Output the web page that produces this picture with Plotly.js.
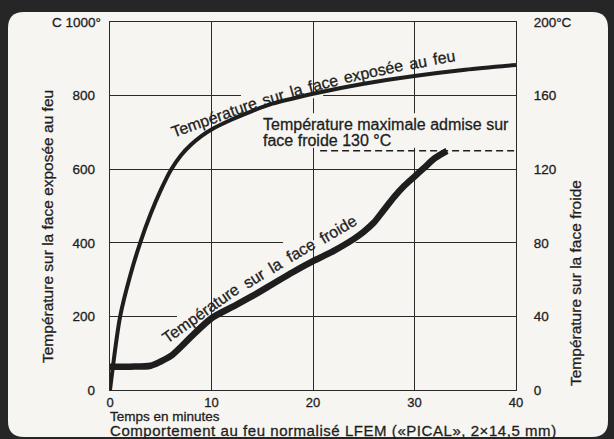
<!DOCTYPE html>
<html><head><meta charset="utf-8">
<script src="https://cdn.plot.ly/plotly-3.0.1.min.js"></script>
<style>
html,body{margin:0;padding:0;background:#262626;}
#chart{width:614px;height:439px;}
#chart text{stroke:#1e1e1e;stroke-width:0.3px;}
</style>
</head><body><div id="chart"></div>
<script>
// ---- data ----
const timeExposed = [0, 1, 2, 3, 4, 5, 6, 7, 8, 9, 10, 12, 14, 16, 18, 20, 25, 30, 35, 40];
const tempExposed = [0, 200, 312, 402, 478, 543, 598, 638, 667, 690, 708, 735, 758, 778, 792, 805, 832, 853, 870, 883];
const timeCold = [0, 2, 4, 5, 6, 7, 8, 10, 12, 14, 16, 18, 20, 22, 24, 25, 26, 27, 28, 29, 30, 31, 32, 33.2];
const tempCold = [12.7, 12.7, 13.2, 15.5, 18.5, 23.5, 29, 39, 45, 51, 57.5, 64, 70, 75.5, 82, 86, 91, 98, 105, 111, 116, 121, 126, 130];
const limitTime = [20.7, 40];
const limitTemp = [130, 130];
const xTickVals = [0, 10, 20, 30, 40];
const leftTickVals = [0, 200, 400, 600, 800, 1000];
const leftTickText = ['0', '200', '400', '600', '800', ''];
const leftTopLabel = 'C 1000°';
const rightTickVals = [0, 40, 80, 120, 160, 200];
const rightTickText = ['0', '40', '80', '120', '160', '200°C'];

// ---- layout helpers ----
const W = 614, H = 439, PL = 110, PR = 516, PT = 22, PB = 390;
const fx = p => (p - PL) / (PR - PL);
const fy = p => (PB - p) / (PB - PT);
const ink = '#1e1e1e';
const paperCol = '#f6f5f1';
const FONT = '"Liberation Sans", Arial, Helvetica, sans-serif';

function roundRect(x0, y0, x1, y1, r) {
  const P = (x, y) => fx(x).toFixed(5) + ',' + fy(y).toFixed(5);
  return 'M' + P(x0 + r, y0) + ' L' + P(x1 - r, y0) + ' Q' + P(x1, y0) + ' ' + P(x1, y0 + r) +
    ' L' + P(x1, y1 - r) + ' Q' + P(x1, y1) + ' ' + P(x1 - r, y1) +
    ' L' + P(x0 + r, y1) + ' Q' + P(x0, y1) + ' ' + P(x0, y1 - r) +
    ' L' + P(x0, y0 + r) + ' Q' + P(x0, y0) + ' ' + P(x0 + r, y0) + ' Z';
}
function mask(x0, x1, y0, y1) {
  return {type: 'rect', xref: 'x', yref: 'y', x0: x0, x1: x1, y0: y0, y1: y1,
    fillcolor: paperCol, line: {width: 0}, layer: 'between'};
}
function ptxt(text, x, y, opts) {
  return Object.assign({text: text, x: x, y: y, xref: 'paper', yref: 'paper', showarrow: false,
    xanchor: 'left', yanchor: 'middle', font: {family: FONT, size: 13.5, color: ink}}, opts || {});
}

// text placed word by word along a cubic curve (pixel space)
const ctx = document.createElement('canvas').getContext('2d');
function textW(s, size) { ctx.font = size + 'px "Liberation Sans"'; return ctx.measureText(s).width; }
function cubic(P, t) {
  const u = 1 - t;
  return [0, 1].map(k => u*u*u*P[0][k] + 3*u*u*t*P[1][k] + 3*u*t*t*P[2][k] + t*t*t*P[3][k]);
}
function curvedLabel(sentence, P, size) {
  const words = sentence.split(' ');
  const N = 400, pts = [], cum = [0];
  for (let i = 0; i <= N; i++) pts.push(cubic(P, i / N));
  for (let i = 1; i <= N; i++) cum.push(cum[i-1] + Math.hypot(pts[i][0]-pts[i-1][0], pts[i][1]-pts[i-1][1]));
  const total = cum[N];
  const ws = words.map(w => textW(w, size));
  const sp = textW(' ', size);
  const natural = ws.reduce((a, b) => a + b, 0) + sp * (words.length - 1);
  const gap = sp + (total - natural) / (words.length - 1);
  let s = 0; const out = [];
  words.forEach((w, i) => {
    const c = s + ws[i] / 2;
    let j = 1; while (j < N && cum[j] < c) j++;
    const a = pts[j-1], b = pts[j];
    const f = (c - cum[j-1]) / (cum[j] - cum[j-1] || 1);
    const x = a[0] + (b[0]-a[0]) * f, y = a[1] + (b[1]-a[1]) * f;
    const i0 = Math.max(0, j - 6), i1 = Math.min(N, j + 6);
    const ang = Math.atan2(pts[i1][1] - pts[i0][1], pts[i1][0] - pts[i0][0]) * 180 / Math.PI;
    out.push(ptxt(w, fx(x), fy(y), {xanchor: 'center', textangle: ang,
      font: {family: FONT, size: size, color: ink}}));
    s += ws[i] + gap;
  });
  return out;
}

const traces = [
  {x: timeExposed, y: tempExposed, type: 'scatter', mode: 'lines',
   line: {color: ink, width: 4, shape: 'spline', smoothing: 0.8}, hoverinfo: 'skip'},
  {x: timeCold, y: tempCold, type: 'scatter', mode: 'lines', yaxis: 'y2',
   line: {color: ink, width: 6.5, shape: 'spline', smoothing: 0.8}, hoverinfo: 'skip'},
  {x: limitTime, y: limitTemp, type: 'scatter', mode: 'lines', yaxis: 'y2',
   line: {color: ink, width: 1.5, dash: '7px,4px'}, hoverinfo: 'skip'}
];

const bottomNote = ptxt('Comportement au feu normalisé LFEM («PICAL», 2×14,5 mm)', fx(108), fy(431),
  {align: 'left', font: {family: FONT, size: 15, color: ink}});

const annotations = [].concat(
  curvedLabel('Température sur la face exposée au feu',
    [[172, 133], [260, 97.7], [354.5, 72.1], [455, 56]], 16),
  curvedLabel('Température sur la face froide',
    [[165, 341], [225, 292], [295, 255], [355, 219]], 16),
  [
    ptxt('Température maximale admise sur', fx(261), fy(125), {font: {family: FONT, size: 16, color: ink}}),
    ptxt('face froide 130 °C', fx(261), fy(140), {font: {family: FONT, size: 16, color: ink}}),
    ptxt(leftTopLabel, fx(103), fy(22), {xanchor: 'right'}),
    ptxt('Température sur la face exposée au feu', fx(47), fy(227),
      {xanchor: 'center', textangle: -90, font: {family: FONT, size: 15.5, color: ink}}),
    ptxt('Température sur la face froide', fx(575), fy(283),
      {xanchor: 'center', textangle: -90, font: {family: FONT, size: 15.5, color: ink}}),
    ptxt('Temps en minutes', fx(108), fy(416.5), {font: {family: FONT, size: 13.5, color: ink}}),
    bottomNote
  ]
);
const bottomIndex = annotations.length - 1;

const layout = {
  width: W, height: H, autosize: false,
  margin: {l: PL, r: W - PR, t: PT, b: H - PB, pad: 0},
  paper_bgcolor: '#262626', plot_bgcolor: paperCol,
  showlegend: false,
  font: {family: FONT, color: ink, size: 13.5},
  xaxis: {range: [0, 40], tickvals: xTickVals, showgrid: true, gridcolor: '#2a2a2a', gridwidth: 1,
    zeroline: false, showline: true, mirror: true, linecolor: '#2a2a2a', linewidth: 1.3,
    ticks: '', tickfont: {size: 13, color: ink}, fixedrange: true},
  yaxis: {range: [0, 1000], tickvals: leftTickVals, ticktext: leftTickText, showgrid: true,
    gridcolor: '#2a2a2a', gridwidth: 1, zeroline: false, showline: true, mirror: true,
    linecolor: '#2a2a2a', linewidth: 1.3, ticks: 'outside', ticklen: 11, tickcolor: 'rgba(0,0,0,0)',
    tickfont: {size: 13.5, color: ink}, fixedrange: true},
  yaxis2: {range: [0, 200], overlaying: 'y', side: 'right', tickvals: rightTickVals,
    ticktext: rightTickText, showgrid: false, zeroline: false, showline: false,
    ticks: 'outside', ticklen: 14, tickcolor: 'rgba(0,0,0,0)',
    tickfont: {size: 13.5, color: ink}, fixedrange: true},
  shapes: [
    {type: 'path', xref: 'paper', yref: 'paper', path: roundRect(8, 12, 608, 437, 16),
     fillcolor: paperCol, line: {width: 0}, layer: 'below'},
    mask(12.9, 21, 793, 807),
    mask(17.05, 24.2, 393, 407),
    mask(6.6, 9.85, 193, 207),
    mask(14.6, 40, 658, 752)
  ],
  annotations: annotations
};

const css = document.createElement('style');
css.textContent = '#chart g.annotation[data-index="' + bottomIndex + '"] text{letter-spacing:0.55px;}';
document.head.appendChild(css);

Plotly.newPlot('chart', traces, layout, {staticPlot: true, displayModeBar: false});
</script></body></html>
